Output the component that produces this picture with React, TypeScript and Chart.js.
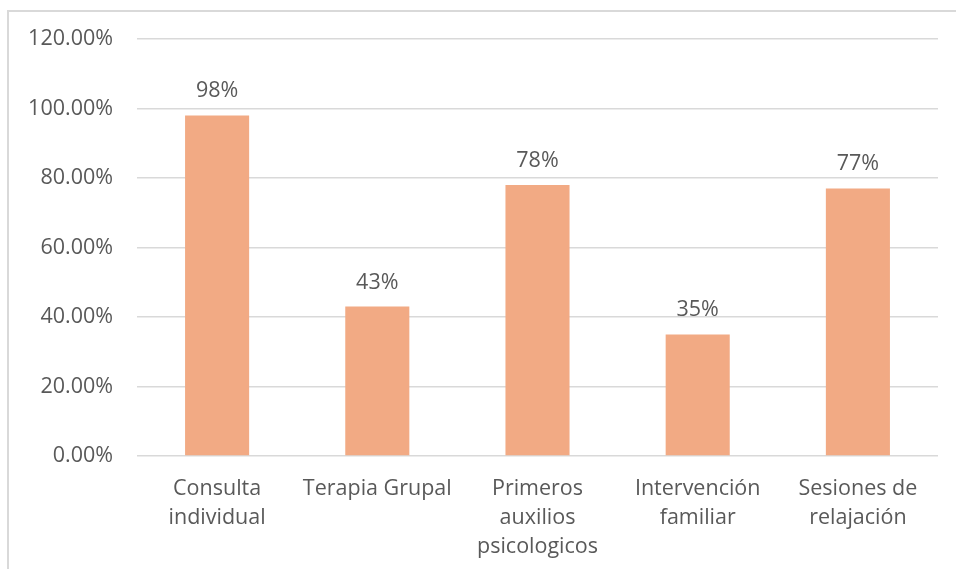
import React, { useEffect, useRef } from "react";
import { Chart, registerables } from "chart.js";

Chart.register(...registerables);

const categories: (string | string[])[] = [
  ["Consulta", "individual"],
  "Terapia Grupal",
  ["Primeros", "auxilios", "psicologicos"],
  ["Intervención", "familiar"],
  ["Sesiones de", "relajación"],
];
const values = [0.98, 0.43, 0.78, 0.35, 0.77];
const valueLabels = ["98%", "43%", "78%", "35%", "77%"];
const yTicks = [0, 0.2, 0.4, 0.6, 0.8, 1.0, 1.2];

const FONT = "'Open Sans', 'Noto Sans', sans-serif";
const TEXT = "#595959";
const BAR = "#F2AA84";
const GRID = "#D9D9D9";

const valueLabelPlugin = {
  id: "valueLabels",
  afterDatasetsDraw(chart: any) {
    const { ctx } = chart;
    const meta = chart.getDatasetMeta(0);
    ctx.save();
    ctx.fillStyle = TEXT;
    ctx.font = `21.5px ${FONT}`;
    ctx.textAlign = "center";
    ctx.textBaseline = "alphabetic";
    meta.data.forEach((bar: any, i: number) => {
      ctx.fillText(valueLabels[i], bar.x, bar.y - 18);
    });
    ctx.restore();
  },
};

export default function App() {
  const ref = useRef<HTMLCanvasElement | null>(null);

  useEffect(() => {
    if (!ref.current) return;
    const chart = new Chart(ref.current, {
      type: "bar",
      data: {
        labels: categories,
        datasets: [
          {
            data: values,
            backgroundColor: BAR,
            barPercentage: 0.4,
            categoryPercentage: 1,
          },
        ],
      },
      options: {
        animation: false,
        responsive: false,
        maintainAspectRatio: false,
        layout: { padding: { top: 39, right: 18, left: 0, bottom: 0 } },
        plugins: {
          legend: { display: false },
          tooltip: { enabled: false },
        },
        scales: {
          x: {
            grid: { display: false, drawTicks: false },
            border: { display: false },
            ticks: {
              color: TEXT,
              font: { family: FONT, size: 21.5, lineHeight: 1.35 },
              padding: 18,
              maxRotation: 0,
              autoSkip: false,
            },
            afterFit: (s: any) => {
              s.height = 113;
            },
          },
          y: {
            min: 0,
            max: 1.2,
            afterBuildTicks: (s: any) => {
              s.ticks = yTicks.map((v) => ({ value: v }));
            },
            grid: { color: GRID, lineWidth: 1.5, drawTicks: false },
            border: { display: false },
            ticks: {
              color: TEXT,
              font: { family: FONT, size: 21.5 },
              padding: 24,
              callback: (v: any) => (Number(v) * 100).toFixed(2) + "%",
            },
            afterFit: (s: any) => {
              s.width = 137;
            },
          },
        },
      },
      plugins: [valueLabelPlugin],
    });
    return () => chart.destroy();
  }, []);

  return (
    <div style={{ position: "fixed", left: 0, top: 0, width: 956, height: 569, background: "#fff", overflow: "hidden" }}>
      <div
        style={{
          position: "absolute",
          left: 7,
          top: 10,
          width: 1000,
          height: 600,
          borderLeft: "2px solid #D9D9D9",
          borderTop: "2px solid #D9D9D9",
          boxSizing: "border-box",
        }}
      />
      <canvas ref={ref} width={956} height={569} style={{ position: "absolute", left: 0, top: 0, display: "block" }} />
    </div>
  );
}
